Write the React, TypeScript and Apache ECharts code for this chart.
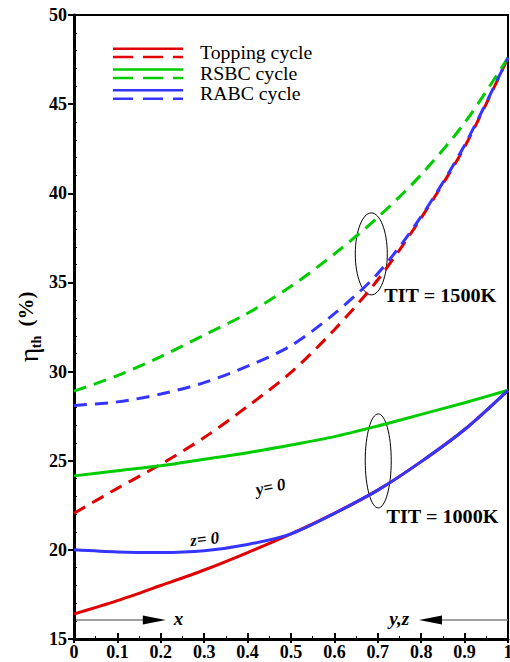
import React, { useEffect, useRef } from 'react';
import * as echarts from 'echarts';

const xValues = [0, 0.1, 0.2, 0.3, 0.4, 0.5, 0.6, 0.7, 0.8, 0.9, 1.0];
const toppingSolid = [16.4, 17.15, 18.0, 18.87, 19.85, 20.9, 22.05, 23.35, 24.95, 26.75, 28.95];
const rsbcSolid = [24.15, 24.44, 24.72, 25.08, 25.45, 25.88, 26.35, 26.95, 27.6, 28.25, 28.95];
const rabcSolid = [20.0, 19.88, 19.85, 19.95, 20.3, 20.9, 22.05, 23.35, 24.95, 26.75, 28.95];
const toppingDashed = [22.05, 23.45, 24.8, 26.3, 28.05, 29.95, 32.35, 35.15, 38.62, 42.6, 47.6];
const rsbcDashed = [28.9, 29.77, 30.84, 32.05, 33.27, 34.78, 36.6, 38.65, 41.05, 43.95, 47.6];
const rabcDashed = [28.1, 28.3, 28.74, 29.38, 30.3, 31.45, 33.25, 35.5, 38.7, 42.7, 47.6];

const legendNames = ['Topping cycle', 'RSBC cycle', 'RABC cycle'];
const RED = '#e00000';
const GREEN = '#00cc00';
const BLUE = '#3535ff';
const FONT = 'Liberation Serif, Times New Roman, DejaVu Serif, serif';

export default function App() {
  const ref = useRef<HTMLDivElement>(null);
  useEffect(() => {
    const chart = echarts.init(ref.current!, null, { renderer: 'svg' });
    const mk = (name: string, data: number[], color: string, dashed: boolean) => ({
      type: 'line',
      name,
      data: xValues.map((x, i) => [x, data[i]]),
      smooth: 0.3,
      symbol: 'none',
      showSymbol: false,
      silent: true,
      xAxisIndex: 0,
      yAxisIndex: 0,
      lineStyle: { color, width: 3, type: dashed ? [13, 8] : 'solid', cap: 'butt' },
    });
    const labelStyle = { color: '#000', fontFamily: FONT, fontWeight: 'bold', fontSize: 18 };
    chart.setOption({
      animation: false,
      backgroundColor: '#fff',
      grid: {
        left: 74, right: 2, top: 15, bottom: 23,
        show: true, borderColor: '#000', borderWidth: 2,
        containLabel: false, outerBoundsMode: 'none',
      },
      xAxis: [
        {
          type: 'value', min: 0, max: 1, interval: 0.1, position: 'bottom',
          axisLine: { onZero: false, lineStyle: { color: '#000', width: 3 } },
          axisTick: { show: true, inside: false, length: 4, lineStyle: { color: '#000', width: 2 } },
          axisLabel: { ...labelStyle, margin: 4, formatter: (v: number) => (v === 0 ? '0' : v === 1 ? '1' : v.toFixed(1)) },
          splitLine: { show: false },
        },
        {
          type: 'value', min: 0, max: 1, interval: 0.1, position: 'bottom',
          axisLine: { show: false, onZero: false },
          axisTick: { show: true, inside: true, length: 6, lineStyle: { color: '#000', width: 2 } },
          minorTick: { show: true, splitNumber: 2, length: 3, lineStyle: { color: '#000', width: 1 } },
          axisLabel: { show: false },
          splitLine: { show: false },
        },
      ],
      yAxis: [
        {
          type: 'value', min: 15, max: 50, interval: 5, position: 'left',
          axisLine: { onZero: false, lineStyle: { color: '#000', width: 3 } },
          axisTick: { show: true, inside: false, length: 6, lineStyle: { color: '#000', width: 2 } },
          axisLabel: { ...labelStyle, margin: 7 },
          splitLine: { show: false },
        },
        {
          type: 'value', min: 15, max: 50, interval: 5, position: 'left',
          axisLine: { show: false, onZero: false },
          axisTick: { show: false, inside: true },
          minorTick: { show: true, splitNumber: 5, length: 3, lineStyle: { color: '#000', width: 1 } },
          axisLabel: { show: false },
          splitLine: { show: false },
        },
      ],
      series: [
        mk('Topping cycle (1000K)', toppingSolid, RED, false),
        mk('Topping cycle (1500K)', toppingDashed, RED, true),
        mk('RSBC cycle (1000K)', rsbcSolid, GREEN, false),
        mk('RSBC cycle (1500K)', rsbcDashed, GREEN, true),
        mk('RABC cycle (1000K)', rabcSolid, BLUE, false),
        mk('RABC cycle (1500K)', rabcDashed, BLUE, true),
      ],
    });

    const p = (x: number, y: number) => chart.convertToPixel({ gridIndex: 0 }, [x, y]) as number[];
    const e1 = p(0.685, 36.6);
    const e2 = p(0.701, 24.99);
    const a1s = p(0, 16.07);
    const a1t = p(0.2115, 16.07);
    const a2s = p(1, 16.07);
    const a2t = p(0.795, 16.07);
    const t15 = p(0.715, 34.24);
    const t10 = p(0.72, 21.85);
    const ty0 = p(0.453, 23.53);
    const tz0 = p(0.301, 20.6);
    const tx = p(0.23, 16.07);
    const tyz = p(0.772, 16.07);

    const txt = (text: string, x: number, y: number, size: number, extra: any = {}, align = 'left', rotation = 0) => ({
      type: 'text', x, y, rotation, scaleX: extra.scaleX || 1,
      style: {
        text, fontFamily: FONT, fontSize: size, fontWeight: extra.fontWeight || 'normal',
        fontStyle: extra.fontStyle || 'normal', fill: '#000', textAlign: align, textVerticalAlign: 'middle',
      },
    });

    const legendColors = [RED, GREEN, BLUE];
    const legendEls: any[] = [];
    legendNames.forEach((n, i) => {
      const y0 = 48.7 + i * 20.8;
      legendEls.push({ type: 'line', shape: { x1: 113, y1: y0, x2: 183, y2: y0 }, style: { stroke: legendColors[i], lineWidth: 2.5 } });
      legendEls.push({ type: 'line', shape: { x1: 113, y1: y0 + 8.4, x2: 183, y2: y0 + 8.4 }, style: { stroke: legendColors[i], lineWidth: 2.5, lineDash: [20, 10] } });
      legendEls.push(txt(n, 200, y0 + 4, 18, { scaleX: 1.1 }));
    });

    chart.setOption({
      graphic: [
        ...legendEls,
        { type: 'ellipse', shape: { cx: e1[0], cy: e1[1], rx: 16, ry: 41 }, style: { fill: 'none', stroke: '#000', lineWidth: 1 } },
        { type: 'ellipse', shape: { cx: e2[0], cy: e2[1], rx: 13, ry: 47 }, style: { fill: 'none', stroke: '#000', lineWidth: 1 } },
        txt('TIT = 1500K', t15[0], t15[1], 18, { fontWeight: 'bold', scaleX: 1.12 }),
        txt('TIT = 1000K', t10[0], t10[1], 18, { fontWeight: 'bold', scaleX: 1.12 }),
        txt('y= 0', ty0[0], ty0[1], 17, { fontWeight: 'bold', fontStyle: 'italic' }, 'center', 0.2),
        txt('z= 0', tz0[0], tz0[1], 17, { fontWeight: 'bold', fontStyle: 'italic' }, 'center', 0.12),
        { type: 'line', shape: { x1: a1s[0], y1: a1s[1], x2: a1t[0] - 10, y2: a1t[1] }, style: { stroke: '#808080', lineWidth: 1.5 } },
        { type: 'polygon', shape: { points: [[a1t[0], a1t[1]], [a1t[0] - 23, a1t[1] - 4.5], [a1t[0] - 23, a1t[1] + 4.5]] }, style: { fill: '#000' } },
        { type: 'line', shape: { x1: a2s[0], y1: a2s[1], x2: a2t[0] + 10, y2: a2t[1] }, style: { stroke: '#808080', lineWidth: 1.5 } },
        { type: 'polygon', shape: { points: [[a2t[0], a2t[1]], [a2t[0] + 23, a2t[1] - 4.5], [a2t[0] + 23, a2t[1] + 4.5]] }, style: { fill: '#000' } },
        txt('x', tx[0], tx[1] - 1, 19, { fontWeight: 'bold', fontStyle: 'italic' }),
        txt('y,z', tyz[0], tyz[1] - 1, 19, { fontWeight: 'bold', fontStyle: 'italic' }, 'right'),
        txt('η', 28, 355, 28, {}, 'center', Math.PI / 2),
        txt('th', 36, 342, 14, { fontWeight: 'bold' }, 'center', Math.PI / 2),
        txt('(%)', 26, 309, 21, { fontWeight: 'bold' }, 'center', Math.PI / 2),
      ],
    });
    return () => chart.dispose();
  }, []);
  return <div ref={ref} style={{ position: 'fixed', left: 0, top: 0, width: 510, height: 662 }} />;
}
